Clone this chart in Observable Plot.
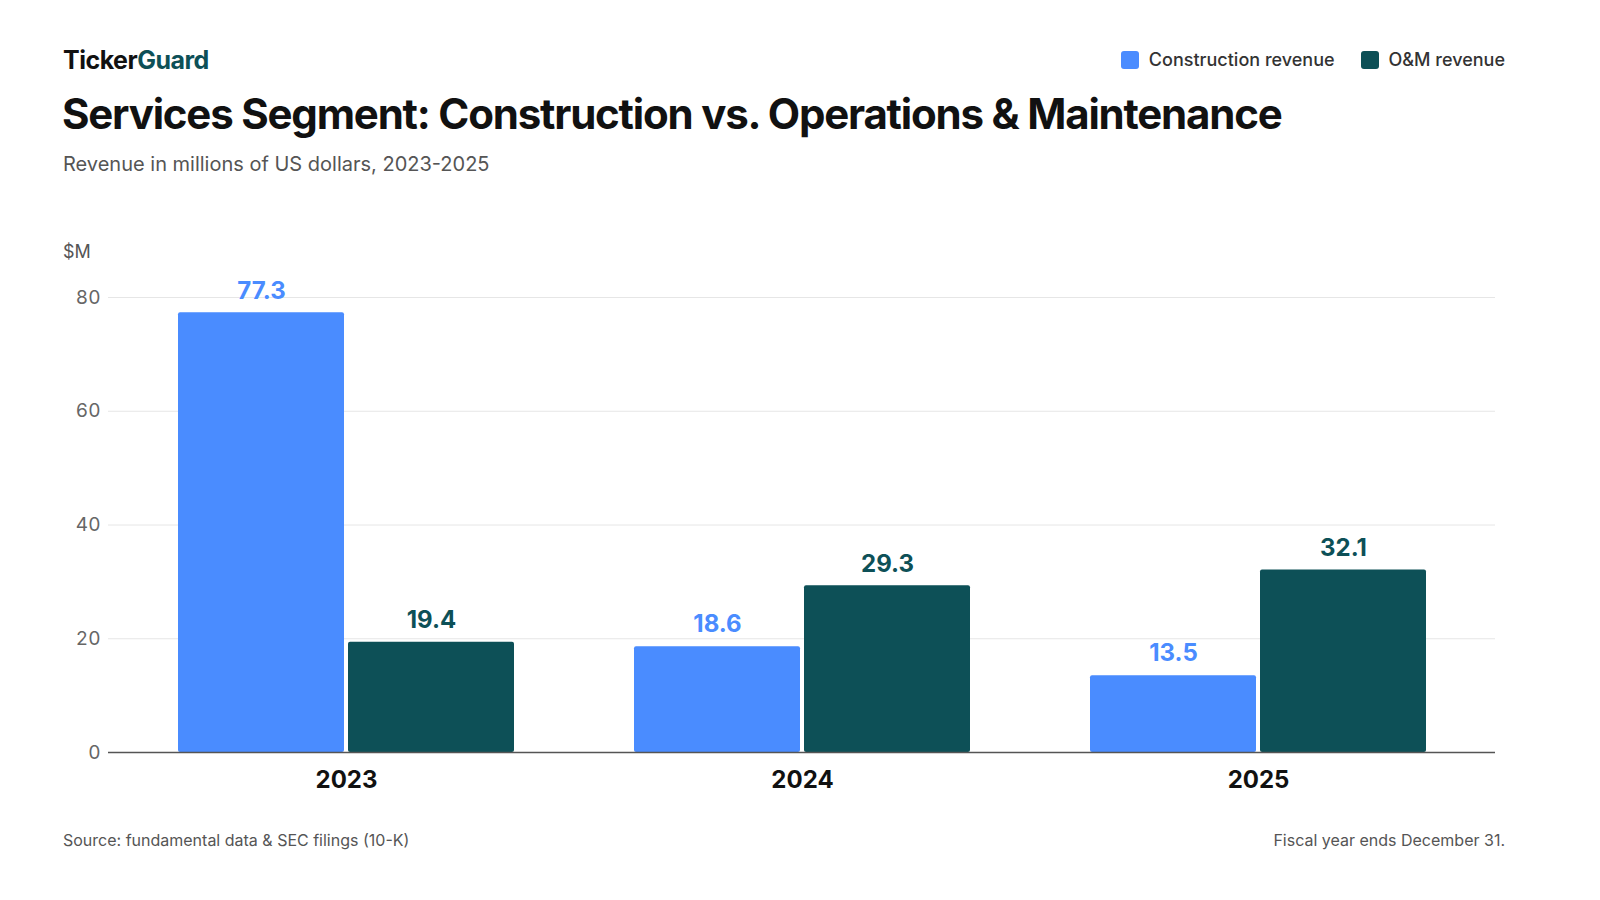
<!DOCTYPE html>
<html><head><meta charset="utf-8">
<script src="https://cdn.jsdelivr.net/npm/d3@7"></script>
<script src="https://cdn.jsdelivr.net/npm/@observablehq/plot@0.6"></script>
<style>
body{margin:0;width:1600px;height:900px;background:#fff;font-family:Inter,sans-serif;position:relative;overflow:hidden}
.a{position:absolute;white-space:nowrap}
</style></head><body>
<div class="a" style="left:63px;top:45px;font-size:25px;font-weight:700;letter-spacing:-0.5px;color:#111">Ticker<span style="color:#0d5057">Guard</span></div>
<div class="a" style="right:95px;top:49px;font-size:18px;font-weight:500;color:#333;display:flex;gap:26px">
<span><span style="display:inline-block;width:18px;height:18px;background:#4a8cff;border-radius:3px;vertical-align:-3px;margin-right:10px"></span>Construction revenue</span>
<span><span style="display:inline-block;width:18px;height:18px;background:#0d5057;border-radius:3px;vertical-align:-3px;margin-right:10px"></span>O&amp;M revenue</span></div>
<div class="a" style="left:62px;top:88px;font-size:42px;font-weight:700;letter-spacing:-1.2px;color:#111">Services Segment: Construction vs. Operations &amp; Maintenance</div>
<div class="a" style="left:63px;top:152px;font-size:20px;color:#555">Revenue in millions of US dollars, 2023-2025</div>
<div class="a" style="left:63px;top:241px;font-size:18px;color:#555">$M</div>
<div id="c" class="a" style="left:0;top:200px"></div>
<div class="a" style="left:63px;top:830px;font-size:16px;color:#555">Source: fundamental data &amp; SEC filings (10-K)</div>
<div class="a" style="right:95px;top:830px;font-size:16px;color:#555">Fiscal year ends December 31.</div>
<script>
const years=["2023","2024","2025"];
const construction=[77.3,18.6,13.5];
const om=[19.4,29.3,32.1];
const yTicks=[0,20,40,60,80];
const cData=years.map((y,i)=>({year:y,v:construction[i]}));
const oData=years.map((y,i)=>({year:y,v:om[i]}));
const blue="#4a8cff",teal="#0d5057";
const p=Plot.plot({width:1600,height:620,marginTop:97,marginBottom:68,marginLeft:108,marginRight:105,
style:{fontFamily:"Inter,sans-serif",background:"transparent"},
x:{domain:years,paddingInner:0.264,paddingOuter:0.15,label:null},
y:{domain:[0,80],label:null},
marks:[
Plot.gridY(yTicks,{stroke:"#e6e6e6",strokeOpacity:1}),
Plot.axisY(yTicks,{tickSize:0,tickPadding:8,fontSize:19,fill:"#666",label:null}),
Plot.axisX({tickSize:0,tickPadding:18,fontSize:24,fontWeight:700,fill:"#111",label:null}),
Plot.barY(cData,{x:"year",y:"v",fill:blue,insetRight:170,rx:2}),
Plot.barY(oData,{x:"year",y:"v",fill:teal,insetLeft:170,rx:2}),
Plot.text(cData,{x:"year",y:"v",text:d=>d.v.toFixed(1),dx:-85,dy:-22,fill:blue,fontSize:24,fontWeight:700}),
Plot.text(oData,{x:"year",y:"v",text:d=>d.v.toFixed(1),dx:85,dy:-22,fill:teal,fontSize:24,fontWeight:700}),
Plot.ruleY([0],{stroke:"#555",strokeWidth:1.5})
]});
document.getElementById("c").appendChild(p);
</script></body></html>
